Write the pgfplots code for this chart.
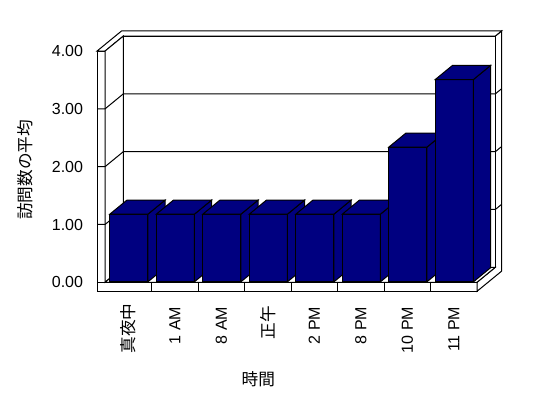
\documentclass[border=0pt]{standalone}
\usepackage{fontspec}
\setmainfont{Liberation Sans}
\newfontfamily\cjk{Noto Sans CJK JP}
\usepackage{pgfplots}
\usepackage{pgfplotstable}
\pgfplotsset{compat=1.18}
\definecolor{barnavy}{RGB}{0,0,128}

\pgfplotstableread{
idx value
0 1.17
1 1.17
2 1.17
3 1.17
4 1.17
5 1.17
6 2.33
7 3.50
}\visits

\begin{document}
\begin{tikzpicture}
\begin{axis}[
  x={(34.875pt,0pt)}, y={(13.725pt,11.25pt)}, z={(0pt,43.35pt)},
  xmin=-0.2, xmax=8, ymin=0, ymax=1.35, zmin=-0.16, zmax=4,
  hide axis, clip=false,
  every axis plot/.append style={no markers, line width=0.75pt, line join=miter},
]
% walls and floor
\addplot3[fill=white, draw=black] coordinates {(-0.172,0,-0.156) (8,0,-0.156) (8,0,0) (-0.172,0,0)} -- cycle;
\addplot3[fill=white, draw=black] coordinates {(8,0,-0.156) (8,1.35,-0.156) (8,1.35,4) (8,1,4) (8,1,0) (8,0,0)} -- cycle;
\addplot3[fill=white, draw=black] coordinates {(-0.172,0,0) (0,0,0) (0,0,4) (-0.172,0,4)} -- cycle;
\addplot3[fill=white, draw=black] coordinates {(-0.172,0,4) (0,0,4) (0,1,4) (8,1,4) (8,1.35,4) (-0.172,1.35,4)} -- cycle;
\addplot3[fill=white, draw=black] coordinates {(0,0,0) (0,1,0) (0,1,4) (0,0,4)} -- cycle;
\addplot3[fill=white, draw=black] coordinates {(0,1,0) (8,1,0) (8,1,4) (0,1,4)} -- cycle;
\addplot3[fill=white, draw=black] coordinates {(0,0,0) (8,0,0) (8,1,0) (0,1,0)} -- cycle;
% gridlines
\addplot3[draw=black] coordinates {(-0.172,0,1) (0,0,1) (0,1,1) (8,1,1) (8,1.35,1)};
\addplot3[draw=black] coordinates {(-0.172,0,2) (0,0,2) (0,1,2) (8,1,2) (8,1.35,2)};
\addplot3[draw=black] coordinates {(-0.172,0,3) (0,0,3) (0,1,3) (8,1,3) (8,1.35,3)};
% category dividers on floor front
\pgfplotsforeachungrouped \k in {1,...,7}{
  \edef\temp{\noexpand\addplot3[draw=black] coordinates {(\k,0,-0.156) (\k,0,0)};}
  \temp
}
% bars
\pgfplotsforeachungrouped \i in {0,...,7}{
  \pgfplotstablegetelem{\i}{value}\of\visits
  \let\v\pgfplotsretval
  \pgfmathsetmacro\xa{\i+0.09}
  \pgfmathsetmacro\xb{\i+0.91}
  \edef\temp{%
    \noexpand\addplot3[fill=barnavy, draw=black] coordinates {(\xa,0.03,0) (\xb,0.03,0) (\xb,0.03,\v) (\xa,0.03,\v)} -- cycle;
    \noexpand\addplot3[fill=barnavy, draw=black] coordinates {(\xb,0.03,0) (\xb,0.97,0) (\xb,0.97,\v) (\xb,0.03,\v)} -- cycle;
    \noexpand\addplot3[fill=barnavy, draw=black] coordinates {(\xa,0.03,\v) (\xb,0.03,\v) (\xb,0.97,\v) (\xa,0.97,\v)} -- cycle;
  }
  \temp
}
% tick labels
\node[anchor=east, font=\fontsize{12}{14}\selectfont, inner sep=0pt] at (axis cs:-0.467,0,0) {0.00};
\node[anchor=east, font=\fontsize{12}{14}\selectfont, inner sep=0pt] at (axis cs:-0.467,0,1) {1.00};
\node[anchor=east, font=\fontsize{12}{14}\selectfont, inner sep=0pt] at (axis cs:-0.467,0,2) {2.00};
\node[anchor=east, font=\fontsize{12}{14}\selectfont, inner sep=0pt] at (axis cs:-0.467,0,3) {3.00};
\node[anchor=east, font=\fontsize{12}{14}\selectfont, inner sep=0pt] at (axis cs:-0.467,0,4) {4.00};
\node[anchor=east, rotate=90, inner sep=0pt, font=\cjk\fontsize{12.5}{14}\selectfont] at (axis cs:0.5,0,-0.363) {真夜中};
\node[anchor=east, rotate=90, inner sep=0pt, xshift=-2.5pt, font=\fontsize{12}{14}\selectfont] at (axis cs:1.5,0,-0.363) {1 AM};
\node[anchor=east, rotate=90, inner sep=0pt, xshift=-2.5pt, font=\fontsize{12}{14}\selectfont] at (axis cs:2.5,0,-0.363) {8 AM};
\node[anchor=east, rotate=90, inner sep=0pt, xshift=-2pt, font=\cjk\fontsize{12.5}{14}\selectfont] at (axis cs:3.5,0,-0.363) {正午};
\node[anchor=east, rotate=90, inner sep=0pt, xshift=-2.5pt, font=\fontsize{12}{14}\selectfont] at (axis cs:4.5,0,-0.363) {2 PM};
\node[anchor=east, rotate=90, inner sep=0pt, xshift=-2.5pt, font=\fontsize{12}{14}\selectfont] at (axis cs:5.5,0,-0.363) {8 PM};
\node[anchor=east, rotate=90, inner sep=0pt, xshift=-2.5pt, font=\fontsize{12}{14}\selectfont] at (axis cs:6.5,0,-0.363) {10 PM};
\node[anchor=east, rotate=90, inner sep=0pt, xshift=-2.5pt, font=\fontsize{12}{14}\selectfont] at (axis cs:7.5,0,-0.363) {11 PM};
% titles
\node[rotate=90, inner sep=0pt, font=\cjk\fontsize{12.5}{14}\selectfont] at (axis cs:-1.72,0,1.943) {訪問数の平均};
\node[inner sep=0pt, font=\cjk\fontsize{12.5}{14}\selectfont] at (axis cs:3.297,0,-1.682) {時間};
\coordinate (O) at (axis cs:0,0,0);
\end{axis}
\pgfresetboundingbox
\path[use as bounding box] ([shift={(-78.75pt,-86.775pt)}]O) rectangle ([shift={(332.25pt,211.725pt)}]O);
\end{tikzpicture}
\end{document}
